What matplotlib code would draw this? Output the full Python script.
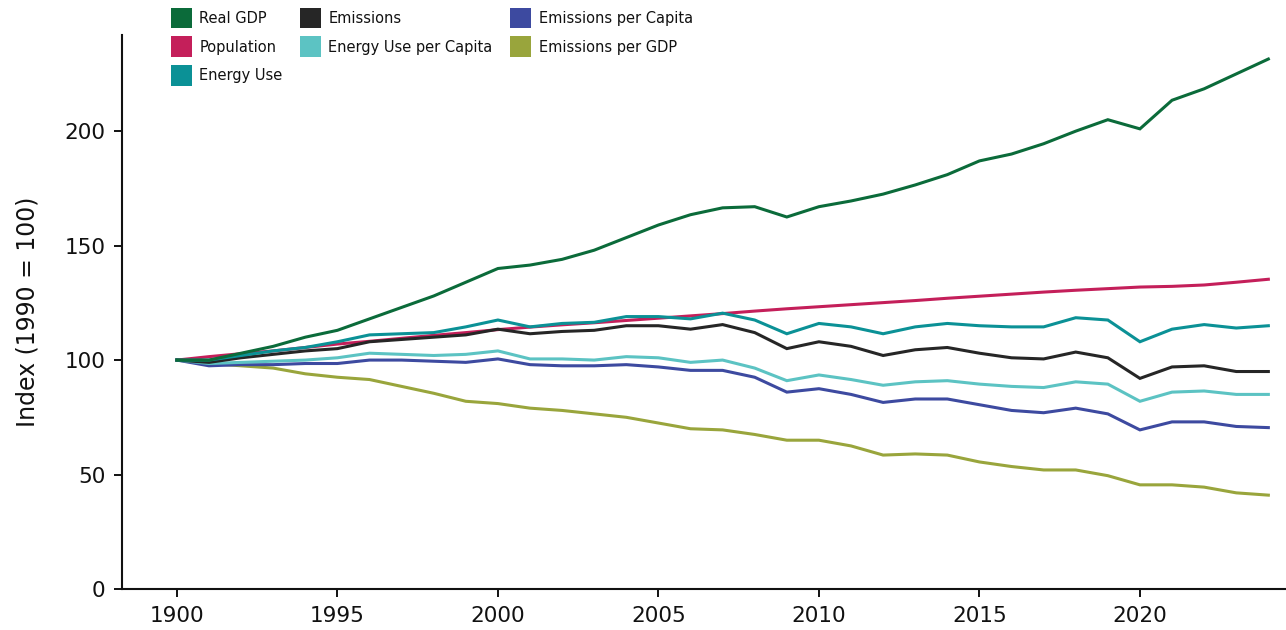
import matplotlib
matplotlib.use("Agg")
import matplotlib.pyplot as plt
from matplotlib.patches import Patch

years = list(range(1990, 2025))

real_gdp = [100, 100, 103, 106, 110, 113, 118, 123, 128, 134, 140, 141.5, 144, 148, 153.5,
            159, 163.5, 166.5, 167, 162.5, 167, 169.5, 172.5, 176.5, 181, 187, 190, 194.5,
            200, 205, 201, 213.5, 218.5, 225, 231.5]
population = [100, 101.5, 102.8, 104, 105.5, 107, 108.2, 109.5, 110.8, 112, 113.3, 114.4,
              115.4, 116.3, 117.3, 118.3, 119.3, 120.3, 121.4, 122.4, 123.3, 124.2, 125.1,
              126, 127, 127.9, 128.8, 129.7, 130.5, 131.2, 131.9, 132.2, 132.8, 134, 135.3]
energy_use = [100, 100, 102, 104, 105.5, 108, 111, 111.5, 112, 114.5, 117.5, 114.5, 116,
              116.5, 119, 119, 118, 120.5, 117.5, 111.5, 116, 114.5, 111.5, 114.5, 116, 115,
              114.5, 114.5, 118.5, 117.5, 108, 113.5, 115.5, 114, 115]
emissions = [100, 99, 101, 102.5, 104, 105, 108, 109, 110, 111, 113.5, 111.5, 112.5, 113,
             115, 115, 113.5, 115.5, 112, 105, 108, 106, 102, 104.5, 105.5, 103, 101, 100.5,
             103.5, 101, 92, 97, 97.5, 95, 95]
energy_pc = [100, 98.5, 99, 99.5, 100, 101, 103, 102.5, 102, 102.5, 104, 100.5, 100.5, 100,
             101.5, 101, 99, 100, 96.5, 91, 93.5, 91.5, 89, 90.5, 91, 89.5, 88.5, 88, 90.5,
             89.5, 82, 86, 86.5, 85, 85]
emissions_pc = [100, 97.5, 98, 98, 98.5, 98.5, 100, 100, 99.5, 99, 100.5, 98, 97.5, 97.5, 98,
                97, 95.5, 95.5, 92.5, 86, 87.5, 85, 81.5, 83, 83, 80.5, 78, 77, 79, 76.5, 69.5,
                73, 73, 71, 70.5]
emissions_gdp = [100, 98.5, 97.5, 96.5, 94, 92.5, 91.5, 88.5, 85.5, 82, 81, 79, 78, 76.5, 75,
                 72.5, 70, 69.5, 67.5, 65, 65, 62.5, 58.5, 59, 58.5, 55.5, 53.5, 52, 52, 49.5,
                 45.5, 45.5, 44.5, 42, 41]

series_names = ["Real GDP", "Population", "Energy Use", "Emissions",
                "Energy Use per Capita", "Emissions per Capita", "Emissions per GDP"]
series_values = [real_gdp, population, energy_use, emissions, energy_pc, emissions_pc, emissions_gdp]
colors = ["#0b6b3a", "#c41f5a", "#0b9196", "#262626", "#5cc3c3", "#3d4aa0", "#99a53c"]

xtick_pos = [1990, 1995, 2000, 2005, 2010, 2015, 2020]
xtick_labels = ["1900", "1995", "2000", "2005", "2010", "2015", "2020"]
ytick_pos = [0, 50, 100, 150, 200]

fig = plt.figure(figsize=(12.86, 6.3), dpi=100)
ax = fig.add_axes([122 / 1286, 1 - 589 / 630, (1286 - 122) / 1286, (589 - 35) / 630])

order = [6, 5, 4, 1, 3, 2, 0]
for i in order:
    ax.plot(years, series_values[i], color=colors[i], lw=2.2, solid_joinstyle="miter", zorder=3)

ax.set_xlim(1988.29, 2024.55)
ax.set_ylim(0, 242)
ax.set_xticks(xtick_pos)
ax.set_xticklabels(xtick_labels)
ax.set_yticks(ytick_pos)
for s in ["top", "right"]:
    ax.spines[s].set_visible(False)
for s in ["left", "bottom"]:
    ax.spines[s].set_linewidth(1.5)
    ax.spines[s].set_color("#111111")
ax.tick_params(axis="both", direction="out", length=6, width=1.4, labelsize=15.5,
               colors="#111111", pad=6)
ax.set_ylabel("Index (1990 = 100)", fontsize=17, color="#111111", labelpad=18)

handles = [Patch(facecolor=c, edgecolor="none") for c in colors]
leg = fig.legend(handles, series_names, ncol=3, loc="upper left",
                 bbox_to_anchor=(165 / 1286, 1 - 2 / 630), frameon=False,
                 fontsize=10.5, handlelength=1.45, handleheight=1.8, handletextpad=0.5,
                 columnspacing=1.2, labelspacing=0.55, borderaxespad=0)
for t in leg.get_texts():
    t.set_color("#111111")
    t.set_fontweight("medium")

fig.savefig("out.png", dpi=100)
